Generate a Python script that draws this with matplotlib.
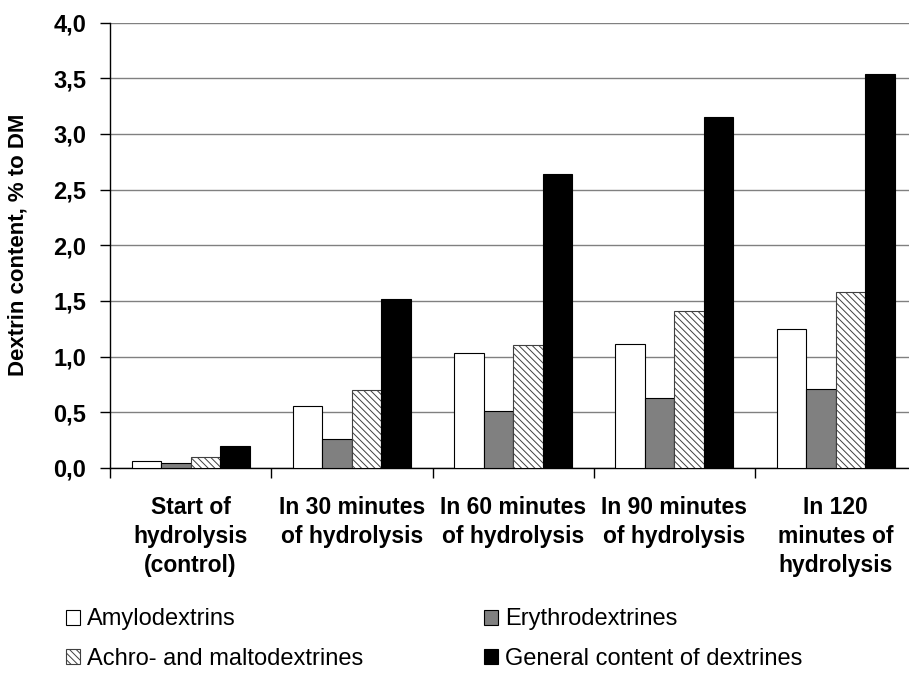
import matplotlib.pyplot as plt
import numpy as np
from matplotlib.ticker import FuncFormatter

plt.rcParams['font.family'] = ['Liberation Sans', 'DejaVu Sans']
plt.rcParams['hatch.linewidth'] = 0.7

categories = ['Start of\nhydrolysis\n(control)', 'In 30 minutes\nof hydrolysis',
              'In 60 minutes\nof hydrolysis', 'In 90 minutes\nof hydrolysis',
              'In 120\nminutes of\nhydrolysis']
amylo = [0.06, 0.56, 1.03, 1.11, 1.25]
erythro = [0.04, 0.26, 0.51, 0.63, 0.71]
achro = [0.10, 0.70, 1.10, 1.41, 1.58]
general = [0.20, 1.52, 2.64, 3.15, 3.54]

fig = plt.figure(figsize=(9.09, 6.82), dpi=100)
# plot area runs a little past the right edge, like the cropped original
ax = fig.add_axes([0.121, 0.314, 0.887, 0.653])

x = np.arange(len(categories))
w = 0.183
b1 = ax.bar(x - 1.5 * w, amylo, w, color='white', edgecolor='black', linewidth=0.8,
            label='Amylodextrins', zorder=3)
b2 = ax.bar(x - 0.5 * w, erythro, w, color='#808080', edgecolor='black', linewidth=0.8,
            label='Erythrodextrines', zorder=3)
b3 = ax.bar(x + 0.5 * w, achro, w, color='white', edgecolor='#404040', hatch='\\' * 5,
            linewidth=0.8, label='Achro- and maltodextrines', zorder=3)
b4 = ax.bar(x + 1.5 * w, general, w, color='black', edgecolor='black', linewidth=0.8,
            label='General content of dextrines', zorder=3)

ax.set_xlim(-0.5, len(categories) - 0.5)
ax.set_ylim(0, 4.0)
ax.set_yticks(np.arange(0, 4.01, 0.5))
ax.yaxis.set_major_formatter(FuncFormatter(lambda v, p: f'{v:.1f}'.replace('.', ',')))
ax.grid(axis='y', color='#808080', linewidth=1.0, zorder=0)

# category labels between boundary ticks
ax.set_xticks(np.arange(-0.5, len(categories), 1.0))
ax.set_xticklabels([])
ax.set_xticks(x, minor=True)
ax.set_xticklabels(categories, minor=True, fontsize=16.5, fontweight='bold',
                   linespacing=1.35)
ax.tick_params(axis='x', which='minor', length=0, pad=20)
ax.tick_params(axis='x', which='major', length=7, direction='out', width=1)
ax.tick_params(axis='y', length=7, width=1, direction='out', labelsize=17, pad=10)
for t in ax.get_yticklabels():
    t.set_fontweight('bold')

ax.spines['top'].set_visible(False)
ax.spines['right'].set_visible(False)
ax.spines['left'].set_linewidth(1.0)
ax.spines['bottom'].set_linewidth(1.0)

ax.set_ylabel('Dextrin content, % to DM', fontsize=16, fontweight='bold')
ax.yaxis.set_label_coords(-0.101, 0.5)

# row-wise order: Amylo, Erythro / Achro, General
fig.legend([b1, b3, b2, b4],
           ['Amylodextrins', 'Achro- and maltodextrines',
            'Erythrodextrines', 'General content of dextrines'],
           loc='upper left', bbox_to_anchor=(0.049, 0.139),
           ncol=2, frameon=False, fontsize=17, handlelength=0.6, handleheight=0.6,
           handletextpad=0.3, columnspacing=5.1, labelspacing=0.75)

fig.savefig('out.png', dpi=100)
